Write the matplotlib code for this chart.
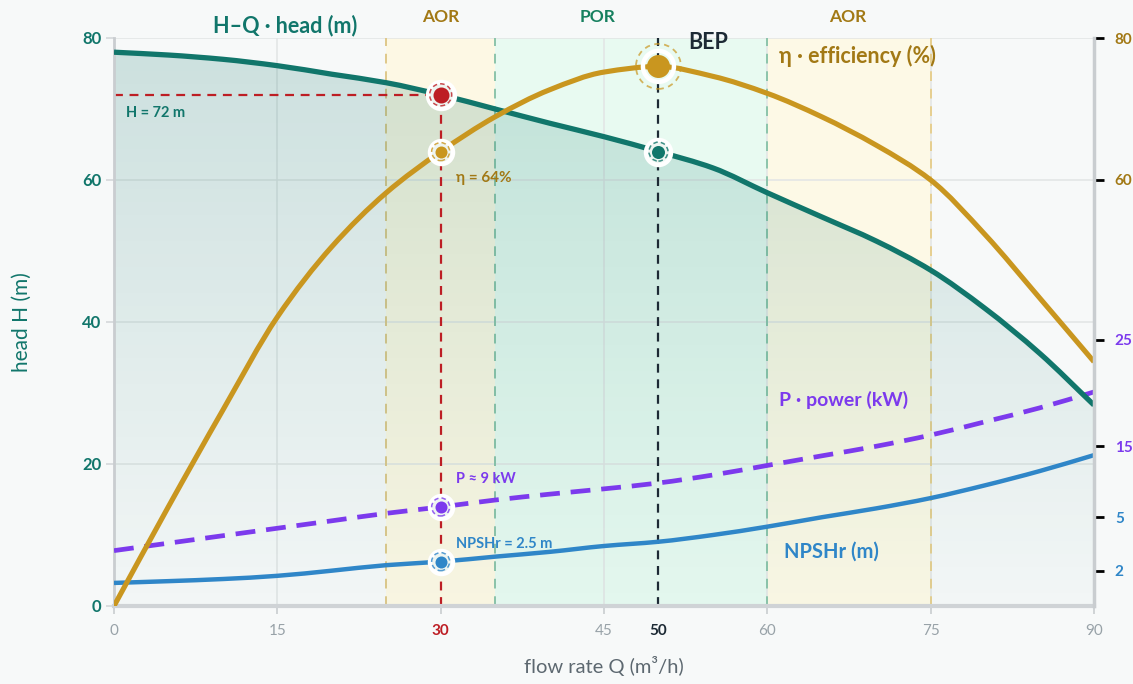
import matplotlib
matplotlib.use('Agg')
import matplotlib.pyplot as plt
import numpy as np
from matplotlib.colors import LinearSegmentedColormap
from matplotlib.path import Path
from matplotlib.patches import PathPatch

plt.rcParams['font.family'] = ['Lato', 'DejaVu Sans']

# flow rate (m3/h)
flow = [0, 5, 10, 15, 20, 25, 30, 35, 40, 45, 50, 55, 60, 65, 70, 75, 80, 85, 90]
# head (m)
head = [78, 77.6, 77, 76.1, 74.9, 73.7, 72, 70, 68, 66.1, 64, 61.7, 58.2, 54.8, 51.4, 47.3, 41.9, 35.6, 28.3]
# efficiency (%)
eff = [0, 14, 27.6, 40.7, 50.6, 58.2, 64, 68.9, 72.7, 75.2, 76, 74.6, 72.2, 68.9, 64.9, 60, 52.3, 43.4, 34.4]
# power (kW)
power = [5.2, 5.9, 6.6, 7.3, 8.0, 8.7, 9.3, 9.95, 10.5, 11.0, 11.55, 12.3, 13.2, 14.1, 15.0, 16.05, 17.3, 18.6, 20.1]
# NPSHr (m)
npsh = [1.3, 1.4, 1.52, 1.7, 1.99, 2.3, 2.5, 2.78, 3.05, 3.38, 3.62, 4.0, 4.47, 5.0, 5.5, 6.08, 6.8, 7.6, 8.5]

op_q = 30
bep_q = 50
aor_left = (25, 35)
por = (35, 60)
aor_right = (60, 75)

x_ticks = [0, 15, 30, 45, 50, 60, 75, 90]
y_ticks = [0, 20, 40, 60, 80]
eff_ticks = [60, 80]
power_ticks = [15, 25]
npsh_ticks = [2, 5]

# secondary series are drawn on the head scale
power_k = 1.5
npsh_k = 2.5

TEAL = '#11766b'
GOLD = '#c9961f'
GOLD_TXT = '#a27915'
PURPLE = '#7c3aed'
BLUE = '#2f86c8'
RED = '#bd1e24'
DARK = '#1d2a35'
BG = '#f7f9f9'

flow = np.array(flow, dtype=float)
head = np.array(head)
eff = np.array(eff)
p_s = np.array(power) * power_k
n_s = np.array(npsh) * npsh_k


def smooth_path(x, y):
    # monotone cubic (Fritsch-Carlson) drawn as bezier segments
    h = np.diff(x)
    d = np.diff(y) / h
    m = np.zeros_like(y)
    m[0], m[-1] = d[0], d[-1]
    for i in range(1, len(x) - 1):
        if d[i - 1] * d[i] <= 0:
            m[i] = 0
        else:
            m[i] = 3 * (h[i - 1] + h[i]) / ((2 * h[i] + h[i - 1]) / d[i - 1] + (h[i] + 2 * h[i - 1]) / d[i])
    verts = [(x[0], y[0])]
    codes = [Path.MOVETO]
    for i in range(len(x) - 1):
        verts += [(x[i] + h[i] / 3, y[i] + m[i] * h[i] / 3),
                  (x[i + 1] - h[i] / 3, y[i + 1] - m[i + 1] * h[i] / 3),
                  (x[i + 1], y[i + 1])]
        codes += [Path.CURVE4] * 3
    return verts, codes


fig = plt.figure(figsize=(11.33, 6.84), dpi=100, facecolor=BG)
ax = fig.add_axes([114 / 1133, 78 / 684, 980 / 1133, 568 / 684])
ax.set_facecolor(BG)
ax.set_xlim(0, 90)
ax.set_ylim(0, 80)

# operating bands
ax.axvspan(*aor_left, color='#fdf8e4', zorder=0, lw=0)
ax.axvspan(*por, color='#e8faf1', zorder=0, lw=0)
ax.axvspan(*aor_right, color='#fdf9e6', zorder=0, lw=0)
for q, c in [(aor_left[0], '#dfc88a'), (por[0], '#8cc4ab'), (por[1], '#8cc4ab'), (aor_right[1], '#e6cf8f')]:
    ax.axvline(q, color=c, lw=1.4, ls=(0, (5, 4)), zorder=1)

ax.grid(True, color='#e2e5e5', lw=1.1, zorder=0.5)
ax.set_axisbelow(True)

# gradient fill under H-Q
cmap = LinearSegmentedColormap.from_list('hq', [(0.07, 0.46, 0.42, 0.02), (0.07, 0.46, 0.42, 0.19)])
grad = np.linspace(0, 1, 256).reshape(-1, 1)
im = ax.imshow(grad, extent=[0, 90, 0, 80], origin='lower', aspect='auto', cmap=cmap, zorder=1.2)
hv, hc = smooth_path(flow, head)
fill_path = Path(hv + [(flow[-1], 0), (flow[0], 0), hv[0]], hc + [Path.LINETO, Path.LINETO, Path.CLOSEPOLY])
clip = PathPatch(fill_path, facecolor='none', edgecolor='none')
ax.add_patch(clip)
im.set_clip_path(clip)


def curve(y, color, lw, ls='-', z=3):
    v, c = smooth_path(flow, y)
    ax.add_patch(PathPatch(Path(v, c), facecolor='none', edgecolor=color, lw=lw, linestyle=ls,
                           capstyle='butt', joinstyle='round', zorder=z))


curve(n_s, BLUE, 3.2)
curve(p_s, PURPLE, 3.4, ls=(0, (4.2, 2.3)))
curve(eff, GOLD, 3.7, z=3.2)
curve(head, TEAL, 3.8, z=3.1)

# guide lines at duty point and BEP
h_op = head[flow == op_q][0]
ax.plot([0, op_q], [h_op, h_op], color=RED, lw=1.6, ls=(0, (4, 3)), zorder=2.5)
ax.plot([op_q, op_q], [0, h_op], color=RED, lw=1.6, ls=(0, (4, 3)), zorder=2.5)
ax.plot([bep_q, bep_q], [0, 80], color=DARK, lw=1.6, ls=(0, (4, 3)), zorder=2.5)

PX = 0.72


def marker(x, y, c, r_dot, r_halo):
    ax.scatter([x], [y], s=(2 * r_halo * PX) ** 2, facecolor='#eef5f1', edgecolor='white', lw=3.2,
               zorder=5)
    ax.scatter([x], [y], s=(2 * (r_dot + 3) * PX) ** 2, facecolor='none', edgecolor=c, lw=1.1, alpha=0.8,
               linestyles=(0, (3, 2)), zorder=5.1)
    ax.scatter([x], [y], s=(2 * r_dot * PX) ** 2, color=c, lw=0, zorder=5.2)


e_op = eff[flow == op_q][0]
p_op = p_s[flow == op_q][0]
n_op = n_s[flow == op_q][0]
h_bep = head[flow == bep_q][0]
e_bep = eff[flow == bep_q][0]

marker(op_q, h_op, RED, 8, 13.5)
marker(op_q, e_op, GOLD, 6, 11.5)
marker(op_q, p_op, PURPLE, 6, 11.5)
marker(op_q, n_op, BLUE, 6, 11.5)
marker(bep_q, h_bep, TEAL, 6.5, 12.5)
# BEP marker
ax.scatter([bep_q], [e_bep], s=(2 * 22.5 * PX) ** 2, facecolor='none', edgecolor=GOLD, lw=1.3,
           linestyles=(0, (3, 2.5)), alpha=0.7, zorder=5)
ax.scatter([bep_q], [e_bep], s=(2 * 15.5 * PX) ** 2, facecolor='none', edgecolor='white', lw=3.2, zorder=5.1)
ax.scatter([bep_q], [e_bep], s=(2 * 11.5 * PX) ** 2, color=GOLD, lw=0, zorder=5.2)

# annotations
ax.text(1.1, 69.4, 'H = 72 m', color=TEAL, fontsize=10.5, fontweight='bold', va='center', zorder=6)
ax.text(31.4, 60.3, 'η = 64%', color=GOLD_TXT, fontsize=11, fontweight='bold', va='center', zorder=6)
ax.text(31.4, 17.9, 'P ≈ 9 kW', color=PURPLE, fontsize=10.5, fontweight='bold', va='center', zorder=6)
ax.text(31.4, 8.8, 'NPSHr = 2.5 m', color=BLUE, fontsize=10.5, fontweight='bold', va='center', zorder=6)
ax.text(52.7, 79.4, 'BEP', color=DARK, fontsize=15.5, fontweight='bold', va='center', zorder=6)
ax.text(61.1, 77.5, 'η · efficiency (%)', color=GOLD_TXT, fontsize=15.5, fontweight='bold', va='center', zorder=6)
ax.text(61.1, 29.0, 'P · power (kW)', color=PURPLE, fontsize=14, fontweight='bold', va='center', zorder=6)
ax.text(61.5, 7.6, 'NPSHr (m)', color=BLUE, fontsize=14.5, fontweight='bold', va='center', zorder=6)

ax.text(15.7, 81.8, 'H–Q · head (m)', color=TEAL, fontsize=15.5, fontweight='bold', ha='center', va='center',
        clip_on=False)
for q, lab, c in [(30, 'AOR', GOLD_TXT), (44.4, 'POR', '#16805f'), (67.4, 'AOR', GOLD_TXT)]:
    ax.text(q, 83.0, lab, color=c, fontsize=12.5, fontweight='bold', ha='center', va='center', clip_on=False)

# axes
ax.spines['top'].set_visible(False)
ax.spines['left'].set_color('#c9cdd0')
ax.spines['left'].set_linewidth(2)
ax.spines['right'].set_visible(False)
ax.spines['bottom'].set_color('#cfd3d6')
ax.spines['bottom'].set_linewidth(3)

ax.set_xticks(x_ticks)
ax.set_xticklabels([str(v) for v in x_ticks])
ax.tick_params(axis='x', colors='#c9cdd0', labelcolor='#98a2a8', labelsize=11, length=6, width=1.2, pad=7)
for t, v in zip(ax.xaxis.get_major_ticks(), x_ticks):
    if v == op_q:
        t.label1.set_color(RED)
        t.label1.set_fontweight('bold')
        t.gridline.set_visible(False)
    if v == bep_q:
        t.label1.set_color(DARK)
        t.label1.set_fontweight('bold')
        t.tick1line.set_visible(False)
        t.gridline.set_visible(False)
ax.set_yticks(y_ticks)
ax.tick_params(axis='y', colors='#d5d8da', labelcolor=TEAL, labelsize=12, length=6, width=1.2, pad=3)
for lab in ax.get_yticklabels():
    lab.set_fontweight('bold')

ax.set_ylabel('head H (m)', color=TEAL, fontsize=15, labelpad=36)
ax.set_xlabel('flow rate Q (m³/h)', color='#5d6870', fontsize=14.5, labelpad=13)

# right-hand scales
ax2 = ax.twinx()
ax2.set_ylim(0, 80)
for s in ['top', 'left', 'bottom']:
    ax2.spines[s].set_visible(False)
ax2.spines['right'].set_color('#c9cdd0')
ax2.spines['right'].set_linewidth(2.5)
r_pos = list(eff_ticks) + [v * power_k for v in power_ticks] + [v * npsh_k for v in npsh_ticks]
r_lab = [str(v) for v in eff_ticks] + [str(v) for v in power_ticks] + [str(v) for v in npsh_ticks]
r_col = [GOLD] * len(eff_ticks) + [PURPLE] * len(power_ticks) + [BLUE] * len(npsh_ticks)
r_txt = [GOLD_TXT] * len(eff_ticks) + [PURPLE] * len(power_ticks) + [BLUE] * len(npsh_ticks)
ax2.set_yticks(r_pos)
ax2.set_yticklabels(r_lab)
ax2.tick_params(axis='y', length=7, width=2, labelsize=11, pad=8)
for t, c, tc in zip(ax2.yaxis.get_major_ticks(), r_col, r_txt):
    t.tick2line.set_color(c)
    t.label2.set_color(tc)
    t.label2.set_fontweight('bold')

fig.savefig('out.png', dpi=100, facecolor=BG)
